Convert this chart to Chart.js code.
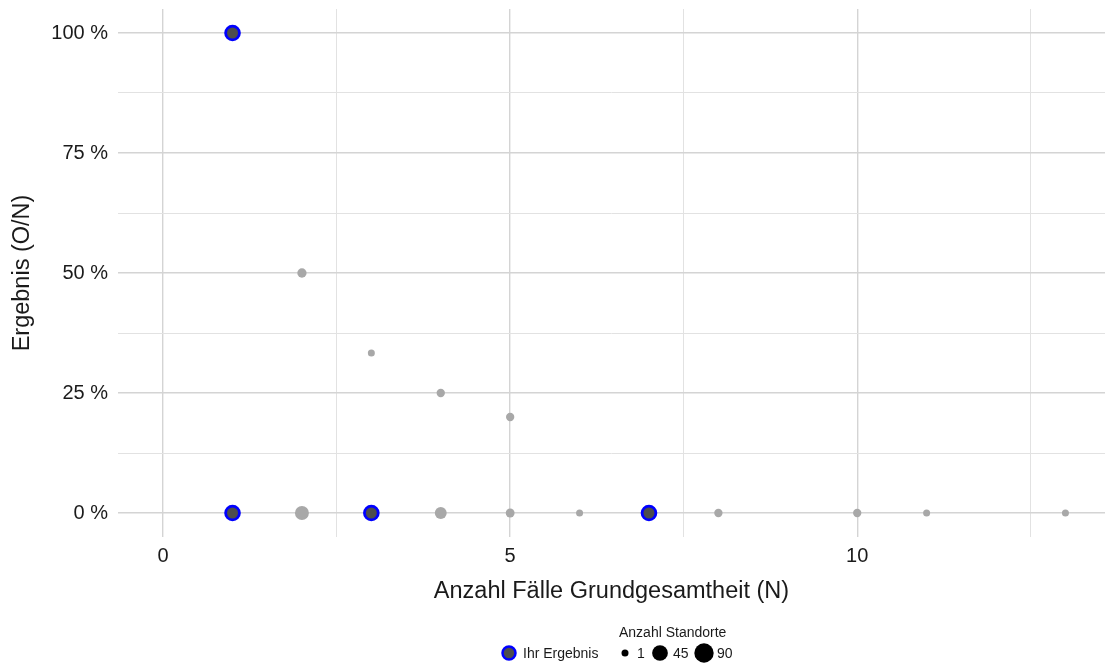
<!DOCTYPE html>
<html>
<head>
<meta charset="utf-8">
<script src="https://cdn.jsdelivr.net/npm/chart.js@4/dist/chart.umd.min.js"></script>
<style>
  html, body { margin: 0; padding: 0; background: #fff; }
  #wrap { position: relative; width: 1106px; height: 666px; }
</style>
</head>
<body>
<div id="wrap"><canvas id="chart" width="1106" height="666"></canvas></div>
<script>
// all sites: N cases, result in %, number of sites at that point
const allN =      [1,   2,  3,     4,  5,  1, 2,  3, 4,  5, 6, 7, 8, 10, 11, 13];
const allResult = [100, 50, 33.33, 25, 20, 0, 0,  0, 0,  0, 0, 0, 0, 0,  0,  0];
const allSites =  [2,   4,  1,     2,  2,  4, 29, 6, 15, 3, 1, 3, 2, 2,  1,  1];

// own results
const ownN =      [1,   1, 3, 7];
const ownResult = [100, 0, 0, 0];

const sizeLegend = [1, 45, 90];
const yTicksMajor = [0, 25, 50, 75, 100];
const xTicksMajor = [0, 5, 10];

const FONT = "'Liberation Sans', Arial, sans-serif";
const TEXT = '#1a1a1a';

function radiusFor(n) {
    return 3.5 + 6.2 * Math.sqrt((n - 1) / 89);
}

const grayPoints = allN.map((n, i) => ({ x: n, y: allResult[i], s: allSites[i] }));
const ownPoints = ownN.map((n, i) => ({ x: n, y: ownResult[i] }));

const legendPlugin = {
    id: 'bottomLegend',
    afterDraw(chart) {
        const ctx = chart.ctx;
        ctx.save();
        // Ihr Ergebnis
        ctx.beginPath();
        ctx.arc(509, 653, 6.5, 0, Math.PI * 2);
        ctx.fillStyle = '#4d4d4d';
        ctx.fill();
        ctx.lineWidth = 2.5;
        ctx.strokeStyle = '#0000ff';
        ctx.stroke();
        ctx.fillStyle = TEXT;
        ctx.font = '14px ' + FONT;
        ctx.textBaseline = 'middle';
        ctx.textAlign = 'left';
        ctx.fillText('Ihr Ergebnis', 523, 654);
        // size legend
        ctx.fillText('Anzahl Standorte', 619, 633);
        const dotX = [625, 660, 704];
        const textX = [637, 673, 717];
        sizeLegend.forEach((n, i) => {
            ctx.beginPath();
            ctx.arc(dotX[i], 653, radiusFor(n), 0, Math.PI * 2);
            ctx.fillStyle = '#000';
            ctx.fill();
            ctx.fillStyle = TEXT;
            ctx.fillText(String(n), textX[i], 654);
        });
        ctx.restore();
    }
};

new Chart(document.getElementById('chart'), {
    type: 'scatter',
    data: {
        datasets: [
            {
                label: 'Alle',
                data: grayPoints,
                backgroundColor: '#a8a8a8',
                borderWidth: 0,
                pointRadius: ctx => radiusFor(ctx.raw.s),
                pointHoverRadius: ctx => radiusFor(ctx.raw.s),
                order: 2
            },
            {
                label: 'Ihr Ergebnis',
                data: ownPoints,
                backgroundColor: '#4d4d4d',
                borderColor: '#0000ff',
                borderWidth: 2.8,
                pointRadius: 6.9,
                pointHoverRadius: 6.9,
                order: 1
            }
        ]
    },
    options: {
        responsive: false,
        animation: false,
        layout: { autoPadding: false, padding: { top: 9, right: 1, bottom: 60, left: 0 } },
        plugins: { legend: { display: false }, tooltip: { enabled: false } },
        scales: {
            x: {
                type: 'linear',
                min: -0.65,
                max: 13.57,
                afterBuildTicks: s => {
                    s.ticks = [0, 2.5, 5, 7.5, 10, 12.5].map(v => ({ value: v }));
                },
                afterFit: s => {
                    s.height = 69;
                    s.paddingLeft = 0;
                    s.paddingRight = 0;
                },
                border: { display: false },
                grid: {
                    color: c => xTicksMajor.includes(c.tick.value) ? '#d4d4d4' : '#e2e2e2',
                    lineWidth: c => xTicksMajor.includes(c.tick.value) ? 1.4 : 1,
                    drawTicks: false
                },
                ticks: {
                    padding: 7,
                    color: TEXT,
                    font: { family: FONT, size: 20 },
                    maxRotation: 0,
                    autoSkip: false,
                    callback: v => xTicksMajor.includes(v) ? String(v) : ''
                },
                title: {
                    display: true,
                    text: 'Anzahl Fälle Grundgesamtheit (N)',
                    color: TEXT,
                    font: { family: FONT, size: 23.5 },
                    padding: { top: 0, bottom: 0 }
                }
            },
            y: {
                min: -5,
                max: 105,
                afterBuildTicks: s => {
                    s.ticks = [0, 12.5, 25, 37.5, 50, 62.5, 75, 87.5, 100].map(v => ({ value: v }));
                },
                afterFit: s => {
                    s.width = 118;
                    s.paddingTop = 0;
                    s.paddingBottom = 0;
                },
                border: { display: false },
                grid: {
                    color: c => yTicksMajor.includes(c.tick.value) ? '#d4d4d4' : '#e2e2e2',
                    lineWidth: c => yTicksMajor.includes(c.tick.value) ? 1.4 : 1,
                    drawTicks: false
                },
                ticks: {
                    padding: 10,
                    color: TEXT,
                    font: { family: FONT, size: 20 },
                    autoSkip: false,
                    callback: v => yTicksMajor.includes(v) ? v + ' %' : ''
                },
                title: {
                    display: true,
                    text: 'Ergebnis (O/N)',
                    color: TEXT,
                    font: { family: FONT, size: 23.5 },
                    padding: { top: 8, bottom: 0 }
                }
            }
        }
    },
    plugins: [legendPlugin]
});
</script>
</body>
</html>
